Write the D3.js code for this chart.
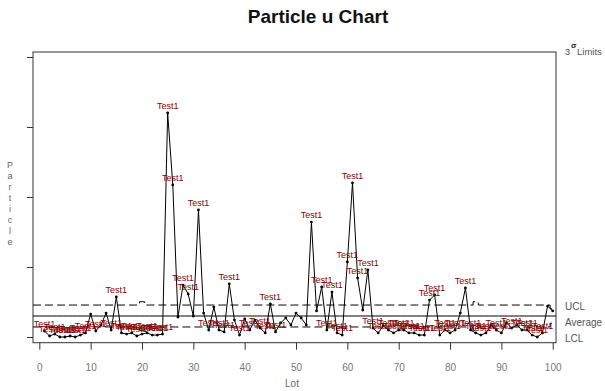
<!DOCTYPE html>
<html>
<head>
<meta charset="utf-8">
<script src="https://cdn.jsdelivr.net/npm/d3@7"></script>
<style>
  body { margin: 0; background: #fff; }
  svg { display: block; font-family: "Liberation Sans", Arial, sans-serif; }
</style>
</head>
<body>
<script>
// u values (particles per unit) for lots 1..100
const lots = d3.range(1, 101);
const uValues = [
  0.43, 0.07, 0.21, 0.0, 0.0, 0.07, 0.0, 0.14, 0.29, 1.64,
  0.43, 0.86, 1.71, 0.5, 2.86, 0.29, 0.21, 0.29, 0.07, 0.21,
  0.29, 0.14, 0.14, 0.21, 16.0, 10.86, 1.43, 3.71, 3.07, 1.5,
  9.07, 1.71, 0.5, 2.14, 0.5, 0.36, 3.79, 1.21, 0.14, 1.29,
  0.5, 1.21, 0.64, 0.29, 2.36, 0.36, 1.0, 1.36, 0.86, 1.71,
  1.36, 0.86, 8.21, 1.86, 3.57, 0.5, 3.21, 0.29, 0.14, 5.36,
  11.0, 4.21, 1.93, 4.79, 0.64, 0.29, 0.79, 0.5, 0.29, 0.5,
  0.5, 0.29, 0.29, 0.14, 0.14, 2.64, 3.0, 0.14, 0.5, 0.29,
  0.5, 1.71, 3.5, 0.5, 0.29, 0.14, 0.29, 0.86, 0.5, 0.29,
  1.0, 0.64, 0.86, 0.5, 0.5, 0.14, 0.0, 0.29, 2.21, 1.86
];
// inspection units per lot
const sampleSizes = [
  22, 22, 22, 22, 22, 22, 22, 22, 22, 22,
  22, 22, 22, 22, 22, 22, 22, 22, 22, 13,
  22, 22, 22, 22, 22, 22, 22, 22, 22, 22,
  22, 22, 22, 22, 22, 22, 22, 22, 22, 22,
  22, 22, 22, 22, 22, 22, 22, 22, 22, 22,
  22, 22, 22, 22, 22, 22, 22, 22, 22, 22,
  22, 22, 22, 22, 22, 22, 22, 22, 22, 22,
  22, 22, 22, 22, 22, 22, 22, 22, 22, 22,
  22, 22, 22, 22, 13, 22, 22, 22, 22, 22,
  22, 22, 22, 22, 22, 22, 22, 22, 22, 50
];
const centerLine = 1.5;
const xTicks = d3.range(0, 101, 10);
const yTicks = [0, 5, 10, 15, 20];
const limitNames = ["UCL", "Average", "LCL"];
const testName = "Test1";

const width = 605;
const height = 391;
const frame = { left: 33, right: 556, top: 52, bottom: 342.7 };

const rows = lots.map((lot, i) => {
  const s = 3 * Math.sqrt(centerLine / sampleSizes[i]);
  return { lot, u: uValues[i], ucl: centerLine + s, lcl: Math.max(0, centerLine - s), cl: centerLine };
});

const x = d3.scaleLinear().domain([-1.23, 100.64]).range([frame.left, frame.right]);
const y = d3.scaleLinear().domain([-0.407, 20.357]).range([frame.bottom, frame.top]);

const svg = d3.select("body").append("svg")
  .attr("width", width)
  .attr("height", height);

// title
svg.append("text")
  .attr("x", 318).attr("y", 23)
  .attr("text-anchor", "middle")
  .attr("font-size", 19).attr("font-weight", "bold")
  .attr("fill", "#111")
  .text("Particle u Chart");

// stacked y label
const yl = svg.append("text")
  .attr("x", 10).attr("y", 168)
  .attr("text-anchor", "middle")
  .attr("font-size", 9).attr("fill", "#666");
yl.selectAll("tspan")
  .data("Particle".split(""))
  .join("tspan")
  .attr("x", 10)
  .attr("dy", (d, i) => i === 0 ? 0 : 11)
  .text(d => d);

// frame
svg.append("rect")
  .attr("x", frame.left).attr("y", frame.top)
  .attr("width", frame.right - frame.left)
  .attr("height", frame.bottom - frame.top)
  .attr("fill", "none").attr("stroke", "#333").attr("stroke-width", 1);

// y ticks, no labels
svg.append("g")
  .attr("transform", `translate(${frame.left},0)`)
  .call(d3.axisLeft(y).tickValues(yTicks).tickSize(6).tickFormat(""))
  .call(g => g.select(".domain").remove())
  .selectAll("line").attr("stroke", "#333");

// x axis
const xa = svg.append("g")
  .attr("transform", `translate(0,${frame.bottom})`)
  .call(d3.axisBottom(x).tickValues(xTicks).tickSize(7).tickPadding(14));
xa.select(".domain").remove();
xa.selectAll("line").attr("stroke", "#333");
xa.selectAll("text").attr("font-size", 10).attr("fill", "#777")
  .attr("font-family", "Liberation Sans, Arial, sans-serif");

svg.append("text")
  .attr("x", 292).attr("y", 387)
  .attr("text-anchor", "middle")
  .attr("font-size", 10).attr("fill", "#666")
  .text("Lot");

// step limit lines across the whole frame
function stepPoints(key) {
  const pts = [];
  rows.forEach((r, i) => {
    const x0 = i === 0 ? x.domain()[0] : r.lot - 0.5;
    const x1 = i === rows.length - 1 ? x.domain()[1] : r.lot + 0.5;
    pts.push([x0, r[key]], [x1, r[key]]);
  });
  return pts;
}
const stepLine = d3.line().x(d => x(d[0])).y(d => y(d[1]));

[["ucl", "8,4"], ["cl", null], ["lcl", "8,4"]].forEach(([key, dash]) => {
  svg.append("path")
    .attr("d", stepLine(stepPoints(key)))
    .attr("fill", "none")
    .attr("stroke", "#000")
    .attr("stroke-width", 1)
    .attr("stroke-dasharray", dash);
});

// data line and points
svg.append("path")
  .datum(rows)
  .attr("d", d3.line().x(d => x(d.lot)).y(d => y(d.u)))
  .attr("fill", "none")
  .attr("stroke", "#000")
  .attr("stroke-width", 1);

svg.append("g")
  .selectAll("circle")
  .data(rows)
  .join("circle")
  .attr("cx", d => x(d.lot))
  .attr("cy", d => y(d.u))
  .attr("r", 1.4)
  .attr("fill", "#000");

// Test1 labels on out-of-limit points
svg.append("g")
  .selectAll("text")
  .data(rows.filter(d => d.u > d.ucl || d.u < d.lcl))
  .join("text")
  .attr("x", d => x(d.lot))
  .attr("y", d => y(d.u) - 4)
  .attr("text-anchor", "middle")
  .attr("font-size", 9)
  .attr("fill", "#8b0000")
  .text(testName);

// right margin labels
svg.append("text")
  .attr("x", 565).attr("y", 55)
  .attr("font-size", 9).attr("fill", "#444")
  .text("3");
svg.append("text")
  .attr("x", 571).attr("y", 48)
  .attr("font-size", 8).attr("font-weight", "bold").attr("fill", "#222")
  .text("σ");
svg.append("text")
  .attr("x", 577).attr("y", 55)
  .attr("font-size", 9.5).attr("fill", "#555")
  .text("Limits");

svg.append("g")
  .selectAll("text")
  .data(limitNames)
  .join("text")
  .attr("x", 565)
  .attr("y", (d, i) => 310 + i * 16)
  .attr("font-size", 10)
  .attr("fill", "#555")
  .text(d => d);
</script>
</body>
</html>
